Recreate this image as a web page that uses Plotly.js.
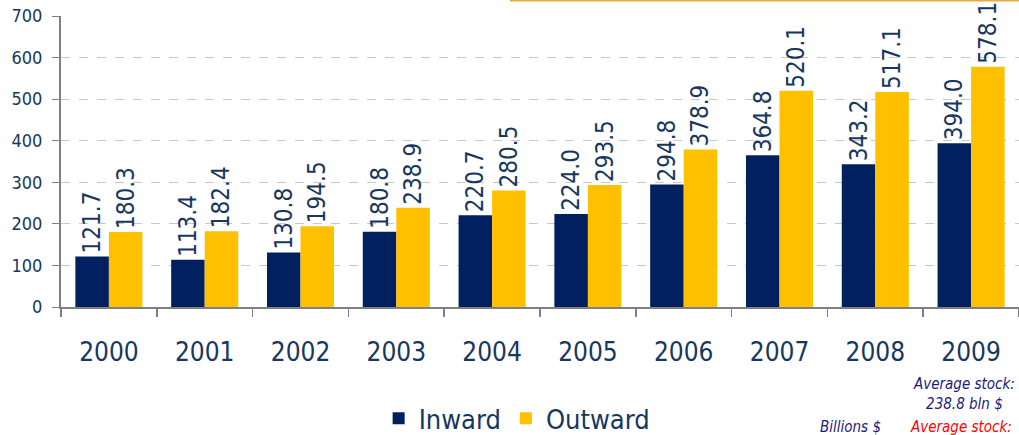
<!DOCTYPE html>
<html>
<head>
<meta charset="utf-8">
<script src="https://cdn.plot.ly/plotly-3.0.1.min.js"></script>
<style>
html,body{margin:0;padding:0;background:#fff;}
#chart{width:1019px;height:435px;}
</style>
</head>
<body>
<div id="chart"></div>
<script>
var years = ["2000","2001","2002","2003","2004","2005","2006","2007","2008","2009"];
var inward = [121.7,113.4,130.8,180.8,220.7,224.0,294.8,364.8,343.2,394.0];
var outward = [180.3,182.4,194.5,238.9,280.5,293.5,378.9,520.1,517.1,578.1];
var yTicks = [0,100,200,300,400,500,600,700];

var FONT = "'DejaVu Sans Condensed', 'DejaVu Sans', sans-serif";
var TXT = "#17375E";

var common = {
  type: "bar",
  x: years,
  texttemplate: "%{y:.1f}",
  textposition: "outside",
  textangle: -90,
  constraintext: "none",
  cliponaxis: false,
  textfont: {family: FONT, size: 24, color: TXT},
  hoverinfo: "x+y"
};

var traces = [
  Object.assign({}, common, {name: "Inward", y: inward, marker: {color: "#002060"}}),
  Object.assign({}, common, {name: "Outward", y: outward, marker: {color: "#FFC000"}})
];

var layout = {
  width: 1019,
  height: 435,
  margin: {l: 61, r: 0, t: 16, b: 128, autoexpand: false},
  paper_bgcolor: "#fff",
  plot_bgcolor: "#fff",
  barmode: "group",
  bargap: 0.3,
  bargroupgap: 0,
  showlegend: true,
  font: {family: FONT, color: TXT},
  xaxis: {
    type: "category",
    range: [-0.5, 9.5],
    showline: true,
    linecolor: "#808080",
    linewidth: 2,
    ticks: "outside",
    ticklen: 8,
    tickcolor: "#808080",
    tickwidth: 1.5,
    tickson: "boundaries",
    showgrid: false,
    tickfont: {family: FONT, size: 26, color: TXT},
    ticklabelstandoff: 21
  },
  yaxis: {
    range: [0, 700],
    tickvals: yTicks,
    showline: true,
    linecolor: "#808080",
    linewidth: 2,
    ticks: "outside",
    ticklen: 7,
    tickcolor: "#808080",
    showgrid: true,
    gridcolor: "#C8C8C8",
    griddash: "dash",
    gridwidth: 1,
    zeroline: false,
    tickfont: {family: FONT, size: 18, color: TXT},
    ticklabelstandoff: 6
  },
  legend: {
    orientation: "h",
    xref: "container",
    yref: "paper",
    x: 0.507,
    xanchor: "center",
    y: -0.3,
    yanchor: "top",
    font: {family: FONT, size: 27, color: TXT},
    itemwidth: 30,
    traceorder: "normal"
  },
  shapes: [
    {type: "line", xref: "paper", yref: "paper", x0: 0.4687, x1: 1.0, y0: 1.053, y1: 1.053,
     line: {color: "#F4A53D", width: 2}}
  ],
  annotations: [
    {xref: "paper", yref: "paper", x: 0.943, y: -0.226, xanchor: "center", yanchor: "top",
     text: "Average stock:<br>238.8 bln $", showarrow: false, align: "center",
     font: {family: FONT, size: 15, color: "#1A1A80", style: "italic"}},
    {xref: "paper", yref: "paper", x: 0.824, y: -0.378, xanchor: "center", yanchor: "top",
     text: "Billions $", showarrow: false, borderpad: 0,
     font: {family: FONT, size: 15, color: "#1A1A80", style: "italic"}},
    {xref: "paper", yref: "paper", x: 0.884, y: -0.373, xanchor: "left", yanchor: "top",
     text: "Average stock:", showarrow: false,
     font: {family: FONT, size: 15, color: "#FF0000", style: "italic"}}
  ]
};

Plotly.newPlot("chart", traces, layout, {displayModeBar: false, staticPlot: true});
</script>
</body>
</html>
